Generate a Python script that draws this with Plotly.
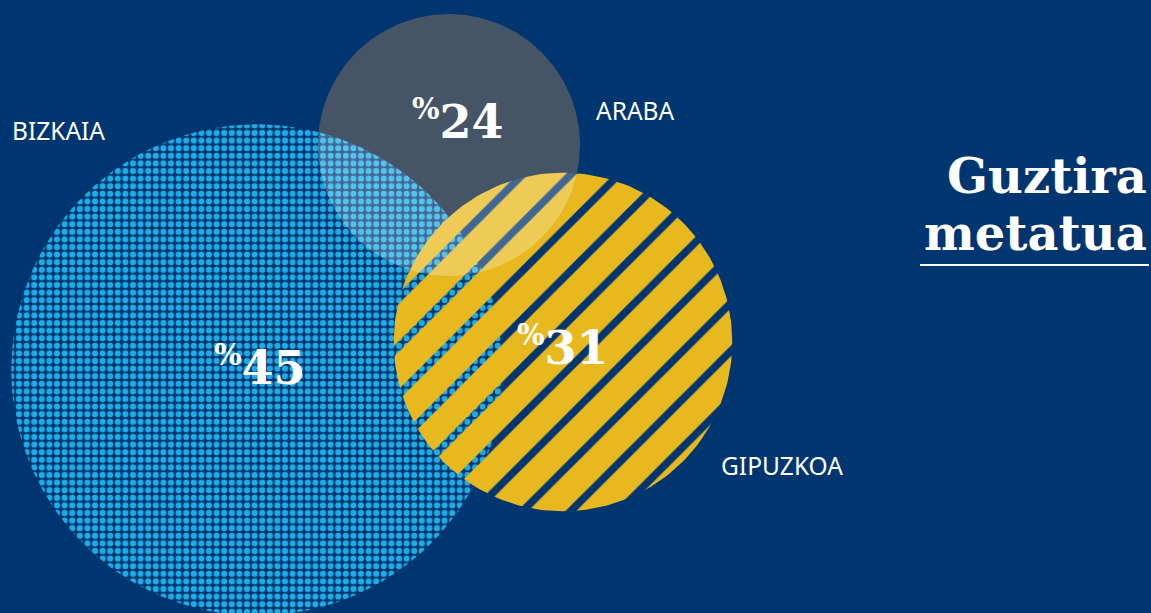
"""Guztira metatua: hiru lurraldeen zirkuluak (Plotly)."""

import numpy as np
import plotly.graph_objects as go


# datuak
REGIONS = ["BIZKAIA", "ARABA", "GIPUZKOA"]
SHARES = [45, 24, 31]
TITLE_LINES = ["Guztira", "metatua"]

BG = "#003670"
DOT_BLUE = "#1DACE6"
YELLOW = "#E8B81F"
ARABA_BASE = "#081C33"
SERIF = "DejaVu Serif"
SANS = "Noto Sans"

W, H = 1151, 613
PX_PER_POINT = 5.46  # zirkuluaren erradioa ehunekoarekiko proportzionala


def circle(cx, cy, r, n=240):
    t = np.linspace(0, 2 * np.pi, n)
    return cx + r * np.cos(t), cy + r * np.sin(t)


share = dict(zip(REGIONS, SHARES))
centers = {"BIZKAIA": (257, 370), "ARABA": (449, 145), "GIPUZKOA": (563, 342)}
radius = {k: v * PX_PER_POINT for k, v in share.items()}


def poly(name):
    cx, cy = centers[name]
    return circle(cx, cy, radius[name])


fig = go.Figure()
common = dict(mode="lines", line=dict(width=0), fill="toself", hoverinfo="skip", showlegend=False)

# Araba oinarria (ilun), gero gainean argitze geruza
x, y = poly("ARABA")
fig.add_trace(go.Scatter(x=x, y=y, fillcolor=ARABA_BASE, **common))

# Gipuzkoaren azpiko oinarri urdina
x, y = poly("GIPUZKOA")
fig.add_trace(go.Scatter(x=x, y=y, fillcolor=BG, **common))

# Bizkaia: puntuak
x, y = poly("BIZKAIA")
fig.add_trace(go.Scatter(
    x=x, y=y, fillcolor=BG,
    fillpattern=dict(shape=".", size=7.6, solidity=0.5, fgcolor=DOT_BLUE,
                     bgcolor=BG, fgopacity=1, fillmode="replace"),
    **common))

# Gipuzkoa: marra horiak, tarte gardenak
x, y = poly("GIPUZKOA")
fig.add_trace(go.Scatter(
    x=x, y=y, fillcolor="rgba(0,0,0,0)",
    fillpattern=dict(shape="/", size=34, solidity=0.78, fgcolor=YELLOW,
                     bgcolor="rgba(0,0,0,0)", fgopacity=1, fillmode="replace"),
    **common))

# Araba: argitze geruza
x, y = poly("ARABA")
fig.add_trace(go.Scatter(x=x, y=y, fillcolor="rgba(255,255,255,0.25)", **common))

# ehunekoak
pct_pos = {"BIZKAIA": (260, 366), "ARABA": (458, 120), "GIPUZKOA": (563, 346)}
for name in REGIONS:
    px_, py_ = pct_pos[name]
    fig.add_annotation(
        x=px_, y=py_, xanchor="center", yanchor="middle", showarrow=False,
        text=f"<sup><span style='font-size:29px'>%</span></sup>{share[name]}",
        font=dict(family=SERIF, size=46, color="white", weight="bold"),
    )

# etiketak
label_pos = {"BIZKAIA": (10, 130), "ARABA": (594, 110), "GIPUZKOA": (719, 465)}
for name in REGIONS:
    lx, ly = label_pos[name]
    fig.add_annotation(
        x=lx, y=ly, xanchor="left", yanchor="middle", showarrow=False,
        text=name, font=dict(family=SANS, size=24.5, color="white"),
    )

# izenburua
for line, ty in zip(TITLE_LINES, [176, 233]):
    fig.add_annotation(
        x=1149, y=ty, xanchor="right", yanchor="middle", showarrow=False,
        text=line, font=dict(family=SERIF, size=48, color="white", weight="bold"),
    )
fig.add_shape(type="line", x0=920, x1=1149, y0=265, y1=265,
              line=dict(color="white", width=2))

fig.update_xaxes(range=[0, W], visible=False, fixedrange=True)
fig.update_yaxes(range=[H, 0], visible=False, fixedrange=True)
fig.update_layout(
    width=W, height=H,
    margin=dict(l=0, r=0, t=0, b=0),
    paper_bgcolor=BG, plot_bgcolor=BG,
)

fig.write_html(
    "out.html",
    config={"displayModeBar": False},
    post_script="document.body.style.margin='0';document.body.style.overflow='hidden';",
)
